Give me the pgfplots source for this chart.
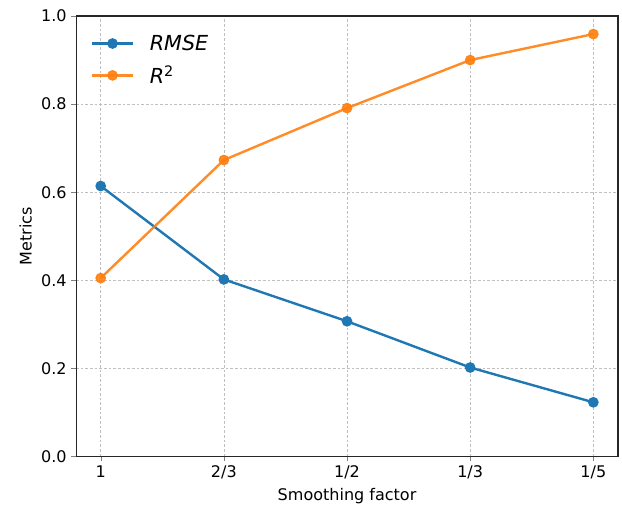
\documentclass[border=0pt]{standalone}
\usepackage{fontspec}
\setmainfont{DejaVu Sans}
\usepackage{pgfplots}
\pgfplotsset{compat=1.18}
\definecolor{cblue}{HTML}{1F77B4}
\definecolor{corange}{HTML}{FF7F0E}
\begin{document}
\begin{tikzpicture}
% page frame: same margins as the reference around the axis box
\path[use as bounding box] (-57pt,-38pt) rectangle (409pt,342pt);
\begin{axis}[
  at={(0,0)}, anchor=south west,
  scale only axis, width=406pt, height=330pt,
  xmin=-0.2, xmax=4.2, ymin=0, ymax=1,
  xtick={0,1,2,3,4}, xticklabels={1,2/3,1/2,1/3,1/5},
  ytick={0,0.2,0.4,0.6,0.8,1.0},
  yticklabel style={/pgf/number format/fixed, /pgf/number format/fixed zerofill, /pgf/number format/precision=1},
  /pgf/number format/assume math mode=true,
  tick label style={font=\fontsize{12}{14}\selectfont},
  label style={font=\fontsize{12}{14}\selectfont},
  xlabel={Smoothing factor}, ylabel={Metrics},
  tick align=outside, tick pos=left, major tick length=3.6pt,
  grid=major, grid style={gray!50, dash pattern=on 2pt off 1.5pt, line width=0.5pt},
  axis line style={line width=0.8pt, black!85},
  legend style={draw=none, fill=none, at={(0.02,0.97)}, anchor=north west,
    font=\fontsize{15.5}{18}\selectfont, row sep=6pt},
  legend cell align=left,
  legend image code/.code={\draw[mark repeat=2, mark phase=2] plot coordinates {(0cm,0cm) (0.53cm,0cm) (1.06cm,0cm)};},
]
\addplot[cblue, line width=1.8pt, mark=*, mark size=3.5pt, mark options={line width=1pt}] coordinates {
  (0,0.614) (1,0.402) (2,0.307) (3,0.202) (4,0.123)};
\addlegendentry{\hspace*{10pt}\textit{RMSE}}
\addplot[corange, line width=1.8pt, mark=*, mark size=3.5pt, mark options={line width=1pt}, opacity=0.9] coordinates {
  (0,0.405) (1,0.673) (2,0.791) (3,0.900) (4,0.959)};
\addlegendentry{\hspace*{10pt}\textit{R}\textsuperscript{2}}
\end{axis}
\end{tikzpicture}
\end{document}
